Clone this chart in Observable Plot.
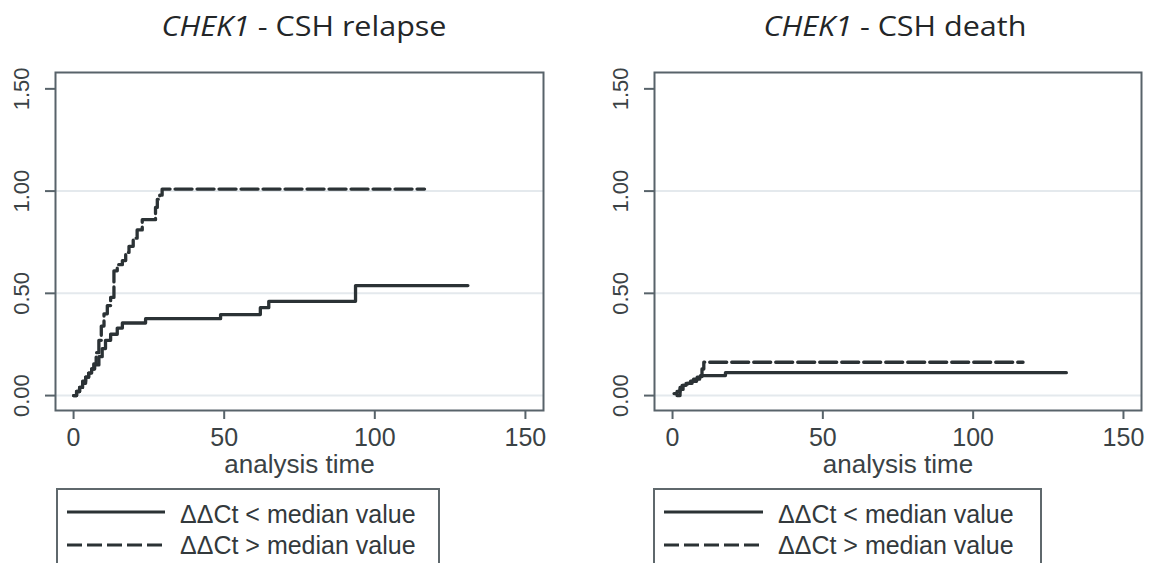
<!DOCTYPE html>
<html>
<head>
<meta charset="utf-8">
<script src="https://cdn.jsdelivr.net/npm/d3@7"></script>
<script src="https://cdn.jsdelivr.net/npm/@observablehq/plot@0.6"></script>
<style>
  body { margin: 0; background: #fff; }
  #wrap { position: relative; width: 1149px; height: 563px; overflow: hidden; background: #fff;
          font-family: "Liberation Sans", Arial, sans-serif; }
  .panel { position: absolute; top: 0; }
  .title { position: absolute; top: 8px; width: 400px; text-align: center; font-family: "Open Sans", sans-serif;
           font-size: 27px; line-height: 36px; color: #232628; white-space: nowrap;
           transform: scaleX(1.13); transform-origin: center; }
  .title i { font-style: italic; }
  .legend { position: absolute; top: 488px; height: 120px; border: 2px solid #5f686c; box-sizing: border-box; }
  .legtext { position: absolute; font-size: 25px; line-height: 30px; color: #33393c; white-space: nowrap; }
  .legsvg { position: absolute; left: 0; top: 0; }
</style>
</head>
<body>
<div id="wrap"></div>
<script>
// ---- data ----
const xTicks = [0, 50, 100, 150];
const yTicks = [0, 0.5, 1, 1.5];
const gridY = [0, 0.5, 1];
const xLabel = "analysis time";
const seriesLabels = ["\u0394\u0394Ct < median value", "\u0394\u0394Ct > median value"];
const titleGene = "CHEK1";
const titles = [" - CSH relapse", " - CSH death"];

// Panel 1: CSH relapse
const relapseLowTime = [0, 1, 2, 3, 4, 5, 6, 7, 8.4, 9.5, 10.6, 12.3, 14.5, 16.2, 23.9, 48.8, 62, 64.8, 93.6, 130.9];
const relapseLowCum  = [0, 0.02, 0.04, 0.06, 0.09, 0.11, 0.13, 0.15, 0.19, 0.23, 0.27, 0.30, 0.33, 0.355, 0.376, 0.396, 0.43, 0.461, 0.538, 0.538];
const relapseHighTime = [0, 1, 2, 3, 4, 5, 6, 6.7, 7.5, 8.4, 9.2, 10.1, 11.2, 12.3, 13.4, 14.5, 16.2, 17.3, 18.4, 19.8, 21.1, 22.8, 27.2, 27.8, 28.6, 29.4, 116.5];
const relapseHighCum  = [0, 0.02, 0.04, 0.07, 0.09, 0.11, 0.13, 0.155, 0.21, 0.27, 0.34, 0.40, 0.44, 0.48, 0.61, 0.64, 0.66, 0.70, 0.73, 0.77, 0.81, 0.86, 0.92, 0.96, 0.98, 1.01, 1.01];

// Panel 2: CSH death
const deathLowTime = [0.5, 1.5, 2.5, 3.2, 4.5, 6, 7, 8.2, 9.3, 17.6, 131];
const deathLowCum  = [0.01, 0.02, 0.04, 0.05, 0.06, 0.07, 0.08, 0.09, 0.098, 0.112, 0.112];
const deathHighTime = [1.5, 2.5, 3.5, 5, 6.5, 8, 9, 9.8, 10.4, 116.6];
const deathHighCum  = [0.0, 0.03, 0.05, 0.06, 0.07, 0.08, 0.09, 0.13, 0.163, 0.163];

const lineColor = "#2b3235";
const frameColor = "#58636a";
const dash = "17,5";

function panel(lowT, lowC, highT, highC, width, marginRight) {
  const low = lowT.map((t, i) => ({t, c: lowC[i]}));
  const high = highT.map((t, i) => ({t, c: highC[i]}));
  return Plot.plot({
    width, height: 475,
    marginLeft: 55, marginRight, marginTop: 72, marginBottom: 65,
    x: {domain: [-6, 156]},
    y: {domain: [-0.073, 1.58]},
    style: {fontFamily: "Liberation Sans, Arial, sans-serif", color: "#3a4245", background: "transparent", overflow: "visible"},
    marks: [
      Plot.ruleY(gridY, {stroke: "#e4e9ed", strokeWidth: 2}),
      Plot.line(low, {x: "t", y: "c", curve: "step-after", stroke: lineColor, strokeWidth: 3.3}),
      Plot.line(high, {x: "t", y: "c", curve: "step-after", stroke: lineColor, strokeWidth: 3.3, strokeDasharray: dash}),
      Plot.frame({stroke: frameColor, strokeWidth: 2}),
      Plot.axisX({ticks: xTicks, tickSize: 9, tickPadding: 9, fontSize: 25, label: null, stroke: frameColor, strokeWidth: 2}),
      Plot.axisY({ticks: yTicks, tickSize: 10, tickPadding: 17, tickRotate: -90, fontSize: 22, label: null,
                  tickFormat: d => d.toFixed(2), stroke: frameColor, strokeWidth: 2}),
      Plot.text([xLabel], {frameAnchor: "bottom", dy: 54, fontSize: 26, text: d => d, lineAnchor: "middle"})
    ]
  });
}

const wrap = document.getElementById("wrap");
function place(el, left) { el.classList.add("panel"); el.style.left = left + "px"; wrap.appendChild(el); }

place(panel(relapseLowTime, relapseLowCum, relapseHighTime, relapseHighCum, 575, 32), 0);
place(panel(deathLowTime, deathLowCum, deathHighTime, deathHighCum, 550, 8), 599);

// titles
[[304, titles[0]], [895, titles[1]]].forEach(([cx, t]) => {
  const d = document.createElement("div");
  d.className = "title";
  d.style.left = (cx - 200) + "px";
  const i = document.createElement("i"); i.textContent = titleGene;
  d.appendChild(i);
  d.appendChild(document.createTextNode(t));
  wrap.appendChild(d);
});

// legends
function legend(boxLeft, boxWidth, lineX1, lineX2, textX) {
  const box = document.createElement("div");
  box.className = "legend";
  box.style.left = boxLeft + "px";
  box.style.width = boxWidth + "px";
  wrap.appendChild(box);
  const ns = "http://www.w3.org/2000/svg";
  const svg = document.createElementNS(ns, "svg");
  svg.setAttribute("class", "legsvg");
  svg.setAttribute("width", 1149); svg.setAttribute("height", 563);
  [[512, null], [545, "15,5"]].forEach(([y, da]) => {
    const l = document.createElementNS(ns, "line");
    l.setAttribute("x1", lineX1); l.setAttribute("x2", lineX2);
    l.setAttribute("y1", y); l.setAttribute("y2", y);
    l.setAttribute("stroke", lineColor); l.setAttribute("stroke-width", 3);
    if (da) l.setAttribute("stroke-dasharray", da);
    svg.appendChild(l);
  });
  wrap.appendChild(svg);
  seriesLabels.forEach((s, k) => {
    const t = document.createElement("div");
    t.className = "legtext";
    t.style.left = textX + "px";
    t.style.top = (k === 0 ? 499 : 530) + "px";
    t.textContent = s;
    wrap.appendChild(t);
  });
}
legend(56, 384, 67, 165, 180);
legend(653, 389, 664, 763, 778);
</script>
</body>
</html>
